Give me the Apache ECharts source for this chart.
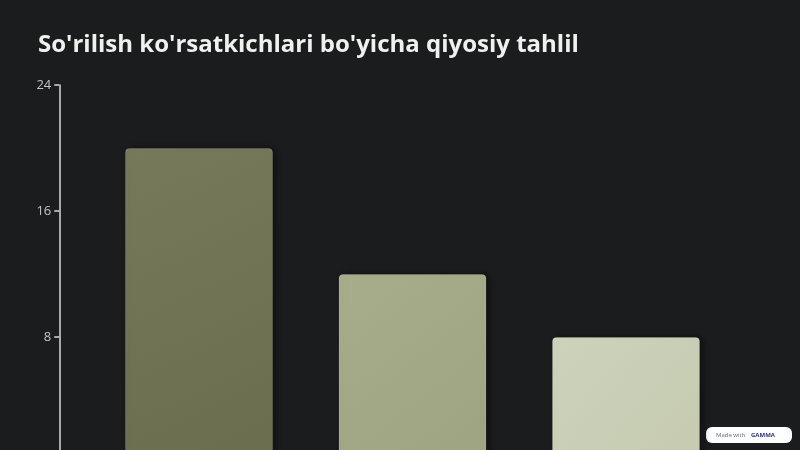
<!DOCTYPE html>
<html>
<head>
<meta charset="utf-8">
<script src="https://cdn.jsdelivr.net/npm/echarts@6/dist/echarts.min.js"></script>
<style>
html,body{margin:0;padding:0;background:#1b1c1e;width:800px;height:450px;overflow:hidden;}
#chart{width:800px;height:470px;}
</style>
</head>
<body>
<div id="chart"></div>
<script>
const title = "So'rilish ko'rsatkichlari bo'yicha qiyosiy tahlil";
const categories = ["A", "B", "C"];
const values = [20, 12, 8];
const barColors = [
  ["#767a5a", "#6a6e4f"],
  ["#a7ac8b", "#9ea382"],
  ["#cdd2ba", "#c5cab1"]
];
const yTicks = { min: 0, max: 24, interval: 8 };

const chart = echarts.init(document.getElementById('chart'), null, { renderer: 'canvas' });
chart.setOption({
  backgroundColor: '#1b1c1e',
  animation: false,
  title: {
    text: title,
    left: 33,
    top: 28,
    textStyle: { color: '#f0f0ee', fontSize: 24, fontWeight: 'bold', fontFamily: 'Open Sans' }
  },
  grid: { left: 92.25, right: 67.25, top: 85, bottom: 7, containLabel: false },
  xAxis: {
    type: 'category',
    data: categories,
    axisLine: { show: false },
    axisTick: { show: false },
    axisLabel: { show: false }
  },
  yAxis: {
    type: 'value',
    min: yTicks.min, max: yTicks.max, interval: yTicks.interval,
    offset: 33,
    axisLine: { show: true, lineStyle: { color: '#d8d8d8', width: 1.5 } },
    axisTick: { show: true, length: 5, lineStyle: { color: '#d8d8d8', width: 1.5 } },
    axisLabel: { color: '#c4c4c4', fontSize: 13, margin: 8, fontFamily: 'Open Sans' },
    splitLine: { show: false }
  },
  series: [{
    type: 'bar',
    barWidth: 148,
    data: values.map((v, i) => ({
      value: v,
      itemStyle: {
        color: new echarts.graphic.LinearGradient(0, 0, 1, 1, [
          { offset: 0, color: barColors[i][0] },
          { offset: 1, color: barColors[i][1] }
        ]),
        borderRadius: [4, 4, 0, 0],
        borderColor: 'rgba(255,255,255,0.12)',
        borderWidth: 1,
        shadowColor: 'rgba(0,0,0,0.45)',
        shadowBlur: 8,
        shadowOffsetX: 3,
        shadowOffsetY: 0
      }
    }))
  }],
  graphic: [{
    type: 'group',
    left: 706,
    top: 427,
    children: [
      { type: 'rect', shape: { x: 0, y: 0, width: 86, height: 16, r: 6 }, style: { fill: '#ffffff' } },
      { type: 'text', style: { x: 10, y: 8, text: 'Made with', fill: '#666a80', fontSize: 6, fontFamily: 'Open Sans', verticalAlign: 'middle' } },
      { type: 'text', style: { x: 45, y: 8, text: 'GAMMA', fill: '#2b2f7a', fontSize: 6, fontWeight: 'bold', fontFamily: 'Open Sans', verticalAlign: 'middle' } }
    ]
  }]
});
</script>
</body>
</html>
